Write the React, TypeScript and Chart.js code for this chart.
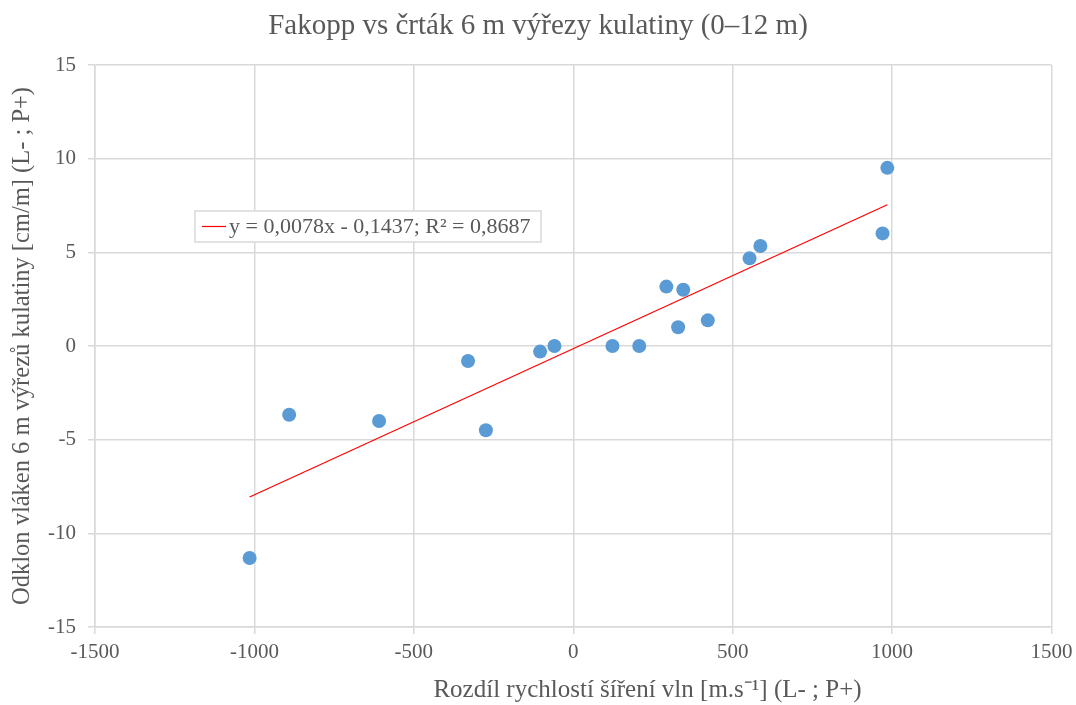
import React, { useEffect, useRef } from "react";
import { Chart, registerables } from "chart.js";

Chart.register(...registerables);

const chartTitle = "Fakopp vs črták 6 m výřezy kulatiny (0–12 m)";
const xAxisTitle = "Rozdíl rychlostí šíření vln [m.s⁻¹] (L- ; P+)";
const yAxisTitle = "Odklon vláken 6 m výřezů kulatiny [cm/m] (L- ; P+)";

const xValues = [-1015, -891, -609, -330, -274, -104, -59, 123, 207, 292, 345, 329, 422, 553, 587, 970, 985];
const yValues = [-11.32, -3.67, -4.0, -0.8, -4.5, -0.3, 0, 0, 0, 3.17, 3.0, 1.0, 1.37, 4.68, 5.34, 6.01, 9.51];

const trendSlope = 0.0078;
const trendIntercept = -0.1437;
const trendLabel = "y = 0,0078x - 0,1437; R² = 0,8687";

const xMin = -1500;
const xMax = 1500;
const xStep = 500;
const yMin = -15;
const yMax = 15;
const yStep = 5;

const FONT = "'Liberation Serif', 'Times New Roman', serif";
const TEXT = "#595959";
const GRID = "#d9d9d9";

const trendLegendPlugin = {
  id: "trendLegend",
  afterDraw(chart: any) {
    const ctx = chart.ctx;
    const ds = chart.data.datasets[0];
    ctx.save();
    const x = 195;
    const y = 211;
    const w = 346;
    const h = 31;
    ctx.fillStyle = "#ffffff";
    ctx.fillRect(x, y, w, h);
    ctx.strokeStyle = GRID;
    ctx.lineWidth = 1.5;
    ctx.strokeRect(x, y, w, h);
    const cy = y + h / 2;
    ctx.strokeStyle = ds.borderColor;
    ctx.lineWidth = 1.2;
    ctx.beginPath();
    ctx.moveTo(202, cy);
    ctx.lineTo(226, cy);
    ctx.stroke();
    ctx.fillStyle = TEXT;
    ctx.font = `22px ${FONT}`;
    ctx.textBaseline = "middle";
    ctx.textAlign = "left";
    ctx.fillText(ds.label, 229, cy + 1);

    // x axis title (offset to the right as in the original)
    ctx.font = `25px ${FONT}`;
    ctx.textAlign = "center";
    ctx.fillText(xAxisTitle, 647.5, 690);
    ctx.restore();
  },
};

export default function App() {
  const canvasRef = useRef<HTMLCanvasElement | null>(null);

  useEffect(() => {
    const canvas = canvasRef.current;
    if (!canvas) return;
    const points = xValues.map((x, i) => ({ x, y: yValues[i] }));
    const tMinX = Math.min(...xValues);
    const tMaxX = Math.max(...xValues);
    const trend = [
      { x: tMinX, y: trendSlope * tMinX + trendIntercept },
      { x: tMaxX, y: trendSlope * tMaxX + trendIntercept },
    ];

    const chart = new Chart(canvas, {
      type: "scatter",
      data: {
        datasets: [
          {
            type: "line",
            label: trendLabel,
            data: trend,
            borderColor: "#ff0000",
            borderWidth: 1.2,
            pointRadius: 0,
            showLine: true,
            fill: false,
          } as any,
          {
            label: "data",
            data: points,
            backgroundColor: "#5b9bd5",
            borderColor: "#5b9bd5",
            pointRadius: 7,
            pointBorderWidth: 0,
          },
        ],
      },
      options: {
        responsive: false,
        animation: false,
        layout: { padding: 0 },
        plugins: {
          legend: { display: false },
          tooltip: { enabled: false },
          title: {
            display: true,
            text: chartTitle,
            color: TEXT,
            font: { family: FONT, size: 29, weight: "normal" },
            padding: { top: 9, bottom: 21.2 },
          },
        },
        scales: {
          x: {
            type: "linear",
            min: xMin,
            max: xMax,
            ticks: {
              stepSize: xStep,
              color: TEXT,
              font: { family: FONT, size: 21 },
              padding: 6,
              callback: (v: any) => String(v),
            },
            grid: { color: GRID, lineWidth: 1.5, tickLength: 7, tickColor: GRID },
            border: { display: true, color: GRID, width: 1.5 },
            title: { display: false, text: xAxisTitle },
            afterFit: (scale: any) => {
              scale.height = 78;
              scale.paddingLeft = 0;
              scale.paddingRight = 0;
            },
          },
          y: {
            type: "linear",
            min: yMin,
            max: yMax,
            ticks: {
              stepSize: yStep,
              color: TEXT,
              font: { family: FONT, size: 21 },
              padding: 12,
              callback: (v: any) => String(v),
            },
            grid: { color: GRID, lineWidth: 1.5, tickLength: 7, tickColor: GRID },
            border: { display: true, color: GRID, width: 1.5 },
            title: {
              display: true,
              text: yAxisTitle,
              color: TEXT,
              font: { family: FONT, size: 24.5 },
              padding: { top: 8.3, bottom: 0 },
            },
            afterFit: (scale: any) => {
              scale.width = 95;
            },
          },
          yRight: {
            type: "linear",
            position: "right",
            display: true,
            min: yMin,
            max: yMax,
            ticks: { display: false },
            grid: { display: false, drawTicks: false },
            border: { display: false },
            afterFit: (scale: any) => {
              scale.width = 24.5;
            },
          },
        },
      },
      plugins: [trendLegendPlugin],
    });

    return () => chart.destroy();
  }, []);

  return (
    <div style={{ position: "absolute", left: 0, top: 0, width: 1076, height: 705, background: "#ffffff" }}>
      <canvas ref={canvasRef} width={1076} height={705} style={{ display: "block" }} />
    </div>
  );
}
